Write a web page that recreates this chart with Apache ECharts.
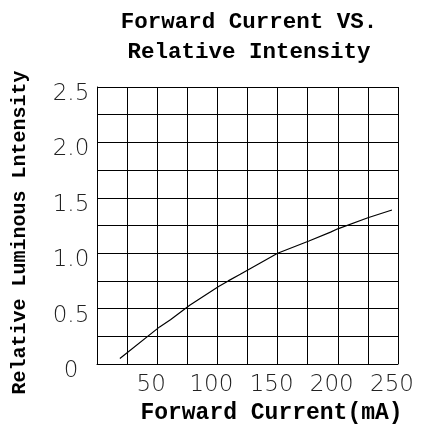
<!DOCTYPE html>
<html><head><meta charset="utf-8">
<script src="https://cdn.jsdelivr.net/npm/echarts@6/dist/echarts.min.js"></script>
<style>html,body{margin:0;padding:0;background:#fff}#c{width:427px;height:430px}</style>
</head><body><div id="c"></div>
<script>
const currentMA = [19, 52, 61, 77, 101, 109, 119, 150, 176, 194, 200, 225, 245];
const intensity = [0.05, 0.335, 0.40, 0.53, 0.70, 0.75, 0.81, 1.0, 1.11, 1.19, 1.22, 1.32, 1.39];
const xTickValues = [50, 100, 150, 200, 250];
const xTickLabels = ['50', '100', '150', '200', '250'];
const yTickValues = [0, 0.5, 1.0, 1.5, 2.0, 2.5];
const yTickLabels = ['0', '0.5', '1.0', '1.5', '2.0', '2.5'];
const titleText = 'Forward Current VS.\nRelative Intensity';
const xName = 'Forward Current(mA)';
const yName = 'Relative Luminous Lntensity';

function lookup(values, labels, v) {
  for (let i = 0; i < values.length; i++) if (Math.abs(values[i] - v) < 1e-6) return labels[i];
  return '';
}
const chart = echarts.init(document.getElementById('c'));
const labelFont = { fontFamily: 'DejaVu Sans', fontWeight: 200, fontSize: 23, color: '#222' };
chart.setOption({
  animation: false,
  title: {
    text: titleText, left: 249, top: 7, padding: 0, textAlign: 'center',
    textStyle: { fontFamily: 'Liberation Mono', fontWeight: 'bold', fontSize: 22.5, lineHeight: 30, color: '#000' }
  },
  grid: { left: 97, right: 29, top: 87, bottom: 66 },
  xAxis: {
    type: 'value', min: 0, max: 250, interval: 25,
    name: xName, nameLocation: 'middle', nameGap: 37,
    nameTextStyle: { fontFamily: 'Liberation Mono', fontWeight: 'bold', fontSize: 23, color: '#000', padding: [0, 0, 0, 48] },
    axisLine: { show: true, lineStyle: { color: '#000', width: 1 } },
    axisTick: { show: false },
    splitLine: { show: true, lineStyle: { color: '#000', width: 1 } },
    axisLabel: Object.assign({ margin: 10, padding: [0, 12, 0, 0], formatter: v => lookup(xTickValues, xTickLabels, v) }, labelFont)
  },
  yAxis: {
    type: 'value', min: 0, max: 2.5, interval: 0.25,
    name: yName, nameLocation: 'middle', nameGap: 67, nameRotate: 90,
    nameTextStyle: { fontFamily: 'Liberation Mono', fontWeight: 'bold', fontSize: 20, color: '#000', padding: [0, 14, 0, 0] },
    axisLine: { show: true, lineStyle: { color: '#000', width: 1 } },
    axisTick: { show: false },
    splitLine: { show: true, lineStyle: { color: '#000', width: 1 } },
    axisLabel: Object.assign({ margin: 26, align: 'center', verticalAlign: 'top', lineHeight: 14, formatter: v => lookup(yTickValues, yTickLabels, v) }, labelFont)
  },
  series: [{
    type: 'line', showSymbol: false, symbol: 'none',
    lineStyle: { color: '#000', width: 1.2 },
    data: currentMA.map((x, i) => [x, intensity[i]])
  }]
});
</script></body></html>
